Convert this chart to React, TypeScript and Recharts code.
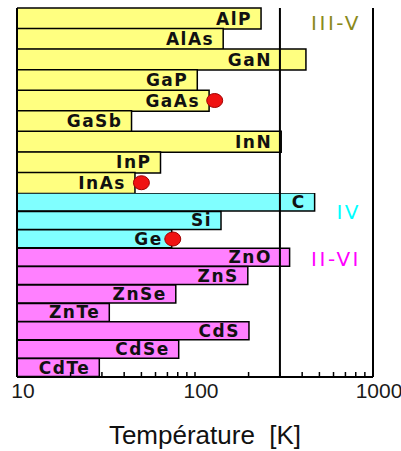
import React from 'react';
import {
  ComposedChart,
  Bar,
  XAxis,
  YAxis,
  ReferenceLine,
  ReferenceDot,
  LabelList,
  Cell
} from 'recharts';

// III-V compounds (temperature in K)
const namesIIIV = ['AlP', 'AlAs', 'GaN', 'GaP', 'GaAs', 'GaSb', 'InN', 'InP', 'InAs'];
const valuesIIIV = [235, 144, 420, 103, 120, 44, 305, 64, 46];

// group IV
const namesIV = ['C', 'Si', 'Ge'];
const valuesIV = [470, 140, 74];

// II-VI compounds
const namesIIVI = ['ZnO', 'ZnS', 'ZnSe', 'ZnTe', 'CdS', 'CdSe', 'CdTe'];
const valuesIIVI = [340, 198, 78, 33, 201, 81, 29];

// red markers
const dotNames = ['GaAs', 'InAs', 'Ge'];
const dotValues = [129, 50, 75];

const tickValues = [10, 20, 30, 40, 50, 60, 70, 80, 90, 100, 200, 300, 400, 500, 600, 700, 800, 900, 1000];
const tickLabels = ['10', '100', '1000'];
const roomTemp = 300;

const axisTitle = 'Température\u00A0\u00A0[K]';

const colors: Record<string, string> = {
  'III-V': '#FFFF80',
  IV: '#80FFFF',
  'II-VI': '#FF80FF'
};
const groupTextColors: Record<string, string> = {
  'III-V': '#8a8a1c',
  IV: '#00ffff',
  'II-VI': '#ff00ff'
};

const rowsTop = namesIIIV.map((name, i) => ({ name, value: valuesIIIV[i], group: 'III-V' }));
const rowsBottom = [
  ...namesIV.map((name, i) => ({ name, value: valuesIV[i], group: 'IV' })),
  ...namesIIVI.map((name, i) => ({ name, value: valuesIIVI[i], group: 'II-VI' }))
];

const labelFont = 'DejaVu Sans, Verdana, sans-serif';
const axisFont = 'Liberation Sans, Arial, sans-serif';

// tick text only for 10 / 100 / 1000, the marks come from tickLine
const TickText = (props: any) => {
  const { x, y, payload } = props;
  const v = payload.value;
  if (!tickLabels.includes(String(v))) return <g />;
  return (
    <text x={x + 6} y={y + 21} textAnchor="middle" fontSize={21} fontFamily={axisFont} fill="#1a1a1a">
      {v}
    </text>
  );
};

// name inside the bar, right aligned; kept off the 300 K line
const nameLabel = (rows: any[]) => (props: any) => {
  const vb = props.viewBox && props.viewBox.width != null ? props.viewBox : props;
  const { x, y, width, height } = vb;
  const row = rows[props.index];
  if (!row) return null;
  const end = x + width;
  const perDecade = width / Math.log10(row.value / 10);
  const lineX = x + perDecade * Math.log10(roomTemp / 10);
  const textW = row.name.length * 13.5;
  let right = end - 9;
  if (right - textW < lineX && lineX < right + 3) right = lineX - 8;
  return (
    <text
      x={right}
      y={y + height / 2}
      textAnchor="end"
      dominantBaseline="central"
      fontFamily={labelFont}
      fontWeight="bold"
      fontSize={17}
      letterSpacing={1.5}
      fill="#111"
    >
      {row.name}
    </text>
  );
};

const RedDot = (props: any) => (
  <ellipse cx={props.cx} cy={props.cy} rx={8} ry={7} fill="#f01212" stroke="#a00000" strokeWidth={1} />
);

const frameLines = () =>
  [10, roomTemp, 1000].map((v) => (
    <ReferenceLine key={'f' + v} xAxisId="bot" x={v} stroke="#000" strokeWidth={2} ifOverflow="visible" />
  ));

const dots = (rows: any[]) =>
  dotNames
    .map((name, i) => ({ name, value: dotValues[i] }))
    .filter((d) => rows.some((r) => r.name === d.name))
    .map((d) => (
      <ReferenceDot key={'d' + d.name} xAxisId="bot" x={d.value} y={d.name} r={7} shape={RedDot} ifOverflow="visible" />
    ));

const groupLabel = (group: string, row: string, dy: number) => (
  <ReferenceLine
    key={'g' + group}
    xAxisId="bot"
    y={row}
    stroke="none"
    ifOverflow="visible"
    label={{
      value: group,
      position: 'insideRight',
      offset: 12,
      dy,
      fill: groupTextColors[group],
      fontSize: 20,
      fontFamily: labelFont,
      letterSpacing: 2.5
    }}
  />
);

// inward tick marks: negative tickSize, tickMargin brings the text back to the axis line
const axisProps = {
  type: 'number' as const,
  scale: 'log' as const,
  domain: [10, 1000],
  allowDataOverflow: true,
  ticks: tickValues,
  interval: 0,
  tickSize: -5,
  tickMargin: 5,
  tickLine: { stroke: '#000', strokeWidth: 1.5 },
  axisLine: { stroke: '#000', strokeWidth: 2 }
};

export default function App() {
  return (
    <div style={{ position: 'absolute', left: 0, top: 0, width: 401, height: 451, background: '#fff' }}>
      <div style={{ position: 'absolute', left: 0, top: 0 }}>
        <ComposedChart
          width={401}
          height={193}
          layout="vertical"
          data={rowsTop}
          margin={{ top: 8, right: 28, bottom: 0, left: 17 }}
          barCategoryGap={0}
        >
          <YAxis type="category" dataKey="name" hide />
          <Bar xAxisId="bot" dataKey="value" stroke="#000" strokeWidth={1.5} isAnimationActive={false}>
            {rowsTop.map((r) => (
              <Cell key={r.name} fill={colors[r.group]} />
            ))}
            <LabelList dataKey="name" content={nameLabel(rowsTop)} />
          </Bar>
          <XAxis xAxisId="top" orientation="top" height={0} {...axisProps} tick={false} />
          <XAxis xAxisId="bot" orientation="bottom" height={0} {...axisProps} tick={false} />
          {frameLines()}
          {groupLabel('III-V', 'AlP', 5)}
          {dots(rowsTop)}
        </ComposedChart>
      </div>
      <div style={{ position: 'absolute', left: 0, top: 193 }}>
        <ComposedChart
          width={401}
          height={258}
          layout="vertical"
          data={rowsBottom}
          margin={{ top: 0, right: 28, bottom: 0, left: 17 }}
          barCategoryGap={0}
        >
          <YAxis type="category" dataKey="name" hide />
          <Bar xAxisId="bot" dataKey="value" stroke="#000" strokeWidth={1.5} isAnimationActive={false}>
            {rowsBottom.map((r) => (
              <Cell key={r.name} fill={colors[r.group]} />
            ))}
            <LabelList dataKey="name" content={nameLabel(rowsBottom)} />
          </Bar>
          <XAxis xAxisId="top" orientation="top" height={0} {...axisProps} tick={false} />
          <XAxis
            xAxisId="bot"
            orientation="bottom"
            height={74}
            {...axisProps}
            tick={(p: any) => <TickText {...p} />}
            label={{
              value: axisTitle,
              position: 'insideBottom',
              offset: 7,
              dx: 10,
              fontSize: 26,
              fontFamily: axisFont,
              fill: '#111'
            }}
          />
          {frameLines()}
          {groupLabel('IV', 'C', 10)}
          {groupLabel('II-VI', 'ZnO', 1)}
          {dots(rowsBottom)}
        </ComposedChart>
      </div>
    </div>
  );
}
